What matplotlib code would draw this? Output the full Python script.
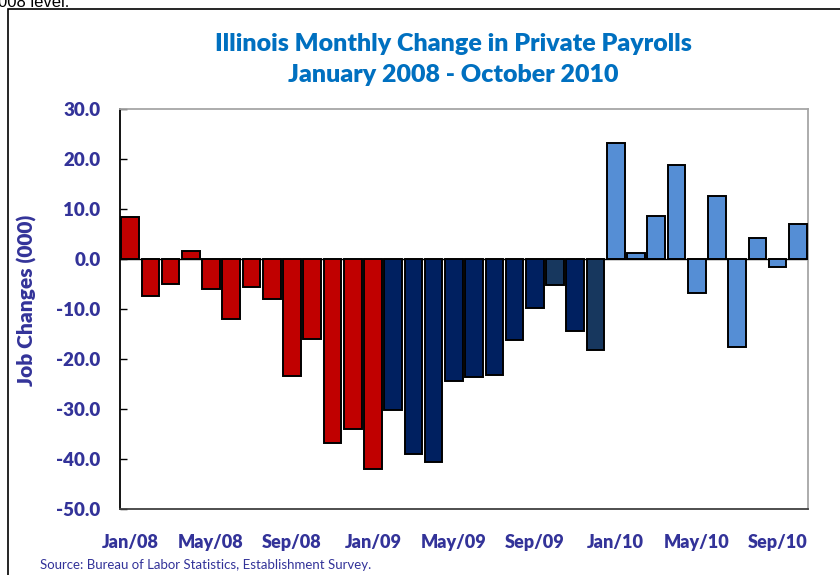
import matplotlib
matplotlib.use("Agg")
from matplotlib import pyplot as plt
from matplotlib.patches import Rectangle
import numpy as np

# monthly change in private payrolls, thousands (Jan 2008 - Oct 2010)
months = ["Jan/08", "Feb/08", "Mar/08", "Apr/08", "May/08", "Jun/08", "Jul/08", "Aug/08",
          "Sep/08", "Oct/08", "Nov/08", "Dec/08",
          "Jan/09", "Feb/09", "Mar/09", "Apr/09", "May/09", "Jun/09", "Jul/09", "Aug/09",
          "Sep/09", "Oct/09", "Nov/09", "Dec/09",
          "Jan/10", "Feb/10", "Mar/10", "Apr/10", "May/10", "Jun/10", "Jul/10", "Aug/10",
          "Sep/10", "Oct/10"]
changes = [8.5, -7.3, -5.0, 1.7, -5.9, -12.0, -5.6, -8.0, -23.3, -15.9, -36.8, -33.9,
           -42.0, -30.2, -38.9, -40.6, -24.3, -23.5, -23.2, -16.1, -9.7, -5.1, -14.4, -18.2,
           23.3, 1.3, 8.7, 18.9, -6.7, 12.7, -17.5, 4.3, -1.5, 7.1]
# which colour group each bar belongs to
groups = ["r"] * 13 + ["n"] * 8 + ["s", "n", "s"] + ["b"] * 10
group_colors = {"r": "#C00000", "n": "#002060", "s": "#17375E", "b": "#558ED5"}

yticks = [-50, -40, -30, -20, -10, 0, 10, 20, 30]

label_color = "#333399"
title_color = "#0070C0"
plt.rcParams["font.family"] = ["Lato", "DejaVu Sans"]

fig = plt.figure(figsize=(8.4, 5.75), dpi=100)
ax = fig.add_axes([120 / 840, 1 - 509 / 575, 688 / 840, 400 / 575])

x = np.arange(len(changes))
ax.bar(x, changes, width=0.87, color=[group_colors[g] for g in groups],
       edgecolor="black", linewidth=1.4, zorder=3)
ax.axhline(0, color="black", linewidth=1.0, zorder=2)

ax.set_xlim(-0.5, len(changes) - 0.5)
ax.set_ylim(-50, 30)
ax.set_yticks(yticks)
ax.set_yticklabels(["%.1f" % v for v in yticks], fontsize=13.5, fontweight="heavy", color=label_color)
ax.tick_params(axis="y", direction="in", length=5, width=1, pad=14)
ax.set_xticks(x[::4])
ax.set_xticklabels(months[::4], fontsize=13, fontweight="heavy", color=label_color)
ax.tick_params(axis="x", length=0, pad=18)

ax.spines["left"].set_color("black")
ax.spines["bottom"].set_color("#404040")
ax.spines["top"].set_color("#A6A6A6")
ax.spines["right"].set_color("#A6A6A6")
for s in ax.spines.values():
    s.set_linewidth(1.3)

ax.set_ylabel("Job Changes (000)", fontsize=15, fontweight="heavy", color=label_color)
ax.yaxis.set_label_coords(-(120 - 37) / 688, (509 - 300) / 400)

fig.text(453 / 840, 1 - 44 / 575, "Illinois Monthly Change in Private Payrolls",
         ha="center", va="center", fontsize=18, fontweight="heavy", color=title_color)
fig.text(453 / 840, 1 - 75 / 575, "January 2008 - October 2010",
         ha="center", va="center", fontsize=18, fontweight="heavy", color=title_color)
fig.text(40 / 840, 1 - 565 / 575, "Source: Bureau of Labor Statistics, Establishment Survey.",
         ha="left", va="center", fontsize=9.5, color=label_color)

# frame of the embedded chart and the cut-off line of text above it
fig.patches.append(Rectangle((8 / 840, -0.1), 1.0, 1.1 - 9 / 575, transform=fig.transFigure,
                             fill=False, edgecolor="black", linewidth=1.2))
fig.text(-2 / 840, 1 - 7 / 575, "008 level.", ha="left", va="baseline",
         fontsize=12, family="Liberation Sans", color="black")

fig.savefig("out.png", dpi=100)
